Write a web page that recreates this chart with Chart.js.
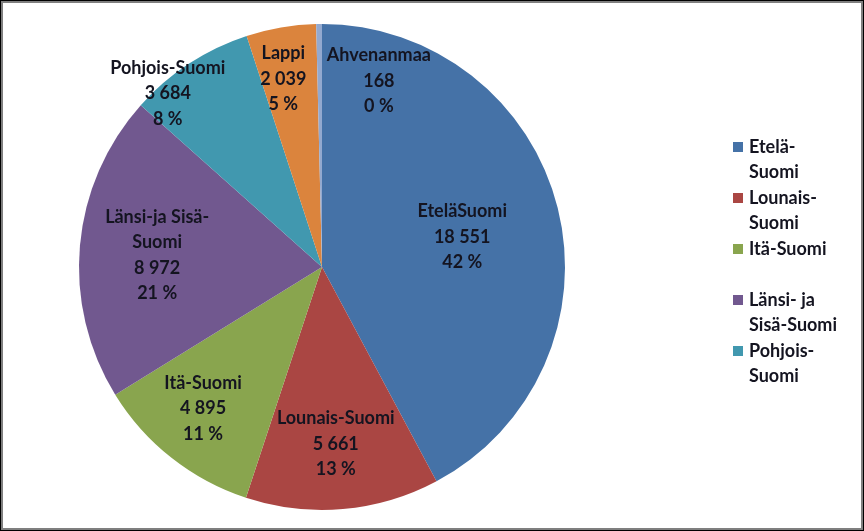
<!DOCTYPE html>
<html>
<head>
<meta charset="utf-8">
<script src="https://cdn.jsdelivr.net/npm/chart.js@4.4.0/dist/chart.umd.min.js"></script>
<style>
    html, body { margin: 0; padding: 0; background: #fff; }
    #wrap { position: relative; width: 864px; height: 531px; }
    #frame {
        position: absolute; left: 0; top: 0; width: 864px; height: 531px;
        box-sizing: border-box; border: 1px solid #000; pointer-events: none;
    }
    #frame::after {
        content: ''; position: absolute; left: 0; top: 0; right: 0; bottom: 0;
        border: 2px solid #7f7f7f;
    }
</style>
</head>
<body>
<div id="wrap">
    <canvas id="chart"></canvas>
    <div id="frame"></div>
</div>
<script>
// Data
const REGIONS = ['Etelä-Suomi', 'Lounais-Suomi', 'Itä-Suomi', 'Länsi- ja Sisä-Suomi', 'Pohjois-Suomi', 'Lappi', 'Ahvenanmaa'];
const VALUES = [18551, 5661, 4895, 8972, 3684, 2039, 168];
const PERCENTS = [42, 13, 11, 21, 8, 5, 0];
// Data label names as written on the slices
const LABEL_NAMES = ['EteläSuomi', 'Lounais-Suomi', 'Itä-Suomi', 'Länsi-ja Sisä-\nSuomi', 'Pohjois-Suomi', 'Lappi', 'Ahvenanmaa'];
// Legend shows only the first five entries (wrapped)
const LEGEND_LINES = [['Etelä-', 'Suomi'], ['Lounais-', 'Suomi'], ['Itä-Suomi'], ['Länsi- ja', 'Sisä-Suomi'], ['Pohjois-', 'Suomi']];

// Styles
const COLORS = ['#4572a7', '#aa4643', '#89a54e', '#71588f', '#4198af', '#db843d', '#93a9cf'];
// [angle offset from slice middle (deg), radius fraction]
const LABEL_PLACE = [[2, 0.59], [0.5, 0.73], [1.8, 0.76], [-1, 0.68], [-8.5, 0.955], [-1.9, 0.79], [17.7, 0.80]];
const FONT = 'bold 18px Lato, "Noto Sans", sans-serif';
const LINE_H = 25.5;

function formatNumber(v) {
    return String(v).replace(/\B(?=(\d{3})+(?!\d))/g, ' ');
}

const sliceLabels = {
    id: 'sliceLabels',
    afterDatasetsDraw(chart) {
        const ctx = chart.ctx;
        const meta = chart.getDatasetMeta(0);
        ctx.save();
        ctx.font = FONT;
        ctx.fillStyle = '#141420';
        ctx.textAlign = 'center';
        ctx.textBaseline = 'middle';
        meta.data.forEach((arc, i) => {
            const p = arc.getProps(['x', 'y', 'startAngle', 'endAngle', 'outerRadius'], true);
            const a = (p.startAngle + p.endAngle) / 2 + LABEL_PLACE[i][0] * Math.PI / 180;
            const r = p.outerRadius * LABEL_PLACE[i][1];
            const cx = p.x + Math.cos(a) * r;
            const cy = p.y + Math.sin(a) * r;
            const lines = [...LABEL_NAMES[i].split('\n'), formatNumber(VALUES[i]), PERCENTS[i] + ' %'];
            lines.forEach((t, k) => {
                ctx.fillText(t, cx, cy + (k - (lines.length - 1) / 2) * LINE_H);
            });
        });
        ctx.restore();
    }
};

const sideLegend = {
    id: 'sideLegend',
    afterDraw(chart) {
        const ctx = chart.ctx;
        const x0 = 733, y0 = 147, rowH = 51;
        ctx.save();
        ctx.font = FONT;
        ctx.textAlign = 'left';
        ctx.textBaseline = 'middle';
        LEGEND_LINES.forEach((lines, i) => {
            const y = y0 + i * rowH;
            ctx.fillStyle = COLORS[i];
            ctx.fillRect(x0, y - 5, 10, 10);
            ctx.fillStyle = '#141420';
            lines.forEach((t, k) => ctx.fillText(t, x0 + 16, y + k * LINE_H));
        });
        ctx.restore();
    }
};

new Chart(document.getElementById('chart'), {
    type: 'pie',
    data: {
        labels: REGIONS,
        datasets: [{
            data: VALUES,
            backgroundColor: COLORS,
            borderWidth: 0
        }]
    },
    options: {
        responsive: true,
        maintainAspectRatio: false,
        animation: false,
        layout: {
            padding: { top: 24, bottom: 21, left: 79, right: 299 }
        },
        plugins: {
            legend: { display: false },
            tooltip: { enabled: false }
        }
    },
    plugins: [sliceLabels, sideLegend]
});
</script>
</body>
</html>
